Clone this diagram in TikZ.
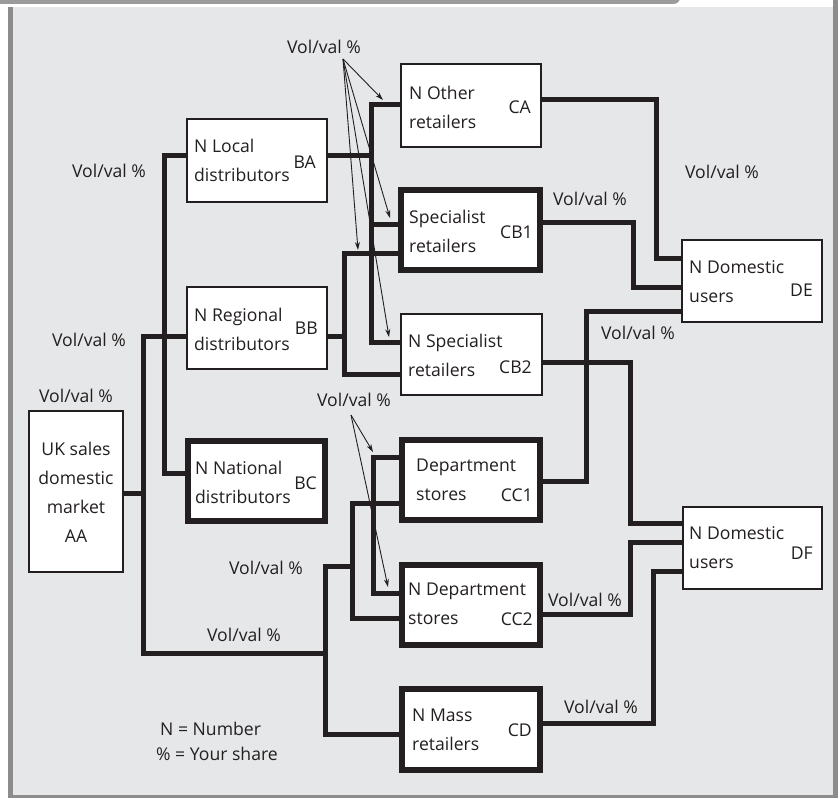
\documentclass[tikz,border=0pt]{standalone}
\usepackage{fontspec}
\setmainfont{Open Sans}
\usetikzlibrary{arrows.meta}
\definecolor{ink}{HTML}{231F20}
\definecolor{panel}{HTML}{E6E7E8}
\definecolor{rim}{HTML}{8C8C8C}
\definecolor{headgrey}{HTML}{9B9B9B}
\begin{document}
\begin{tikzpicture}[x=1pt,y=-1pt,
  every node/.style={font=\fontsize{17.6}{29}\selectfont, text=ink},
  thinbox/.style={draw=ink, fill=white, line width=1.2pt, inner sep=0pt},
  thickbox/.style={draw=ink, fill=white, line width=5.5pt, inner sep=0pt},
  link/.style={draw=ink, line width=5pt},
  pointer/.style={draw=ink, line width=0.9pt, -{Stealth[length=8pt,width=5pt]}},
  lbl/.style={inner sep=0pt},
  inbox/.style={inner sep=0pt, anchor=west, align=left},
  code/.style={inner sep=0pt, anchor=east}]
\useasboundingbox (0,0) rectangle (840,801);

% frame
\fill[panel] (8,7) rectangle (835,797);
\fill[rim] (8,7) rectangle (13,797);
\fill[rim] (833,0) rectangle (838,798);
\fill[rim] (8,795) rectangle (838,798);
\draw[white, line width=2pt, fill=headgrey, rounded corners=7pt] (-10,-20) rectangle (681,5);

% boxes
\node[thinbox, minimum width=94pt, minimum height=161pt] (aa) at (76,491.5) {};
\node[thinbox, minimum width=140pt, minimum height=83pt] (ba) at (257,160.5) {};
\node[thinbox, minimum width=140pt, minimum height=82pt] (bb) at (257,328) {};
\node[thickbox, minimum width=137pt, minimum height=80pt] (bc) at (256.5,481) {};
\node[thinbox, minimum width=140pt, minimum height=83pt] (ca) at (471,105.5) {};
\node[thickbox, minimum width=139pt, minimum height=80pt] (cb1) at (470.5,230) {};
\node[thinbox, minimum width=141pt, minimum height=81pt] (cb2) at (471.5,354.5) {};
\node[thickbox, minimum width=138pt, minimum height=80pt] (cc1) at (471,480) {};
\node[thickbox, minimum width=138pt, minimum height=80pt] (cc2) at (471,605) {};
\node[thickbox, minimum width=138pt, minimum height=81pt] (cd) at (471,729.5) {};
\node[thinbox, minimum width=140pt, minimum height=82pt] (de) at (752,281) {};
\node[thinbox, minimum width=139pt, minimum height=82pt] (df) at (752.5,548) {};

% box texts
\node[inner sep=0pt, align=center] (aat) at (76,492) {UK sales\\domestic\\market\\AA};
\node[inbox] (bat) at (194,160.5) {N Local\\distributors};
\node[code] (bac) at (316,162) {BA};
\node[inbox] (bbt) at (194,329) {N Regional\\distributors};
\node[code] (bbc) at (318,328) {BB};
\node[inbox] (bct) at (195,482) {N National\\distributors};
\node[code] (bcc) at (317,483) {BC};
\node[inbox] (cat) at (409,107) {N Other\\retailers};
\node[code] (cac) at (531,107) {CA};
\node[inbox] (cb1t) at (409,231) {Specialist\\retailers};
\node[code] (cb1c) at (533,232) {CB1};
\node[inbox] (cb2t) at (408,355) {N Specialist\\retailers};
\node[code] (cb2c) at (532,367) {CB2};
\node[inbox] (cc1t) at (416,480) {Department\\stores};
\node[code] (cc1c) at (533,495) {CC1};
\node[inbox] (cc2t) at (408,604) {N Department\\stores};
\node[code] (cc2c) at (533,619) {CC2};
\node[inbox] (cdt) at (412,730) {N Mass\\retailers};
\node[code] (cdc) at (532,730) {CD};
\node[inbox] (det) at (689,282) {N Domestic\\users};
\node[code] (dec) at (813,290) {DE};
\node[inbox] (dft) at (689,548) {N Domestic\\users};
\node[code] (dfc) at (813,553) {DF};

% connectors, left side
\draw[link] (aa.east |- 0,493) -- (143,493);
\draw[link] (bb.west |- 0,336) -| (143,653) -| (325,734) -- (cd.west |- 0,734);
\draw[link] (325,653) |- (352,566);
\draw[link] (ba.west |- 0,155) -| (164,473) -- (bc.west |- 0,473);
\draw[link] (ba.east |- 0,155) -- (371,155);
\draw[link] (ca.west |- 0,104) -| (371,342) -- (cb2.west |- 0,342);
\draw[link] (371,224) -- (cb1.west |- 0,224);
\draw[link] (bb.east |- 0,336) -- (344,336);
\draw[link] (cb1.west |- 0,253) -| (344,374) -- (cb2.west |- 0,374);
\draw[link] (cc1.west |- 0,503) -| (352,618) -- (cc2.west |- 0,618);
\draw[link] (cc1.west |- 0,457) -| (373,593) -- (cc2.west |- 0,593);

% connectors, right side
\draw[link] (ca.east |- 0,99) -| (656,258) -- (de.west |- 0,258);
\draw[link] (cb1.east |- 0,222) -| (633,287) -- (de.west |- 0,287);
\draw[link] (de.west |- 0,311) -| (586,481) -- (cc1.east |- 0,481);
\draw[link] (cb2.east |- 0,362) -| (630,523) -- (df.west |- 0,523);
\draw[link] (cc2.east |- 0,614) -| (630,542) -- (df.west |- 0,542);
\draw[link] (cd.east |- 0,723) -| (653,571) -- (df.west |- 0,571);

% share labels
\node[lbl] (v1) at (109,171) {Vol/val \%};
\node[lbl] (v2) at (89,340) {Vol/val \%};
\node[lbl] (v3) at (76,396) {Vol/val \%};
\node[lbl] (v4) at (324,47) {Vol/val \%};
\node[lbl] (v5) at (354,400) {Vol/val \%};
\node[lbl] (v6) at (266,568) {Vol/val \%};
\node[lbl] (v7) at (244,635) {Vol/val \%};
\node[lbl] (v8) at (590,199) {Vol/val \%};
\node[lbl] (v9) at (722,172) {Vol/val \%};
\node[lbl] (v10) at (638,333) {Vol/val \%};
\node[lbl] (v11) at (585,600) {Vol/val \%};
\node[lbl] (v12) at (601,707) {Vol/val \%};

% pointers from the share labels
\coordinate (p1) at (343,59);
\coordinate (t1) at (383,100);
\coordinate (t2) at (390,218);
\coordinate (t3) at (358,250);
\coordinate (t4) at (389,337);
\draw[pointer] (p1) -- (t1);
\draw[pointer] (p1) -- (t2);
\draw[pointer] (p1) -- (t3);
\draw[pointer] (p1) -- (t4);
\coordinate (p2) at (351,415);
\coordinate (t5) at (373,452);
\coordinate (t6) at (388,587);
\draw[pointer] (p2) -- (t5);
\draw[pointer] (p2) -- (t6);

% key
\node[inner sep=0pt, anchor=west] (key1) at (160,729) {N = Number};
\node[inner sep=0pt, anchor=west] (key2) at (156,754) {\% = Your share};
\end{tikzpicture}
\end{document}
